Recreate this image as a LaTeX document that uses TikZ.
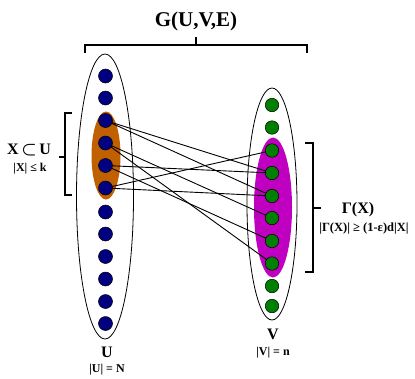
\documentclass[tikz,border=0pt]{standalone}
\usepackage{amsmath}
\usepackage{fontspec}
\setmainfont{Liberation Serif}
\usetikzlibrary{shapes.geometric}
\definecolor{dotblue}{RGB}{0,0,128}
\definecolor{dotgreen}{RGB}{0,128,0}
\definecolor{setorange}{RGB}{192,96,0}
\definecolor{setmag}{RGB}{192,0,192}
\tikzset{
  udot/.style={circle,draw=black,line width=0.5pt,fill=dotblue,minimum size=14pt,inner sep=0pt},
  vdot/.style={circle,draw=black,line width=0.5pt,fill=dotgreen,minimum size=13.5pt,inner sep=0pt},
  edge/.style={draw=black,line width=0.9pt},
  brk/.style={draw=black,line width=1.1pt},
  lbl/.style={inner sep=0pt,font=\bfseries},
  big/.style={lbl,font=\bfseries\fontsize{16}{16}\selectfont},
  small/.style={lbl,font=\bfseries\fontsize{12}{12}\selectfont},
}
\begin{document}
\begin{tikzpicture}[x=1pt,y=-1pt]
\useasboundingbox (0,0) rectangle (415,378);
% sets
\node[draw=black,line width=0.8pt,ellipse,minimum width=57pt,minimum height=285pt,inner sep=0pt] (Uset) at (105,196.5) {};
\node[draw=black,line width=0.8pt,ellipse,minimum width=50pt,minimum height=232pt,inner sep=0pt] (Vset) at (272,204) {};
\node[fill=setorange,ellipse,minimum width=29pt,minimum height=88pt,inner sep=0pt] (Xset) at (106,155.5) {};
\node[fill=setmag,ellipse,minimum width=38pt,minimum height=140pt,inner sep=0pt] (Gset) at (273,207.5) {};
% edges first (under dots)
\foreach \i/\y in {1/76,2/98,3/120.5,4/143,5/165.5,6/188,7/212,8/234,9/256.5,10/279,11/301.5,12/323.5}
  \coordinate (uc\i) at (105.5,\y);
\foreach \i/\y in {1/105,2/127.5,3/150.5,4/173,5/196,6/218,7/241,8/263.5,9/286,10/306}
  \coordinate (vc\i) at (272,\y);
\foreach \a/\b in {3/4,3/5,4/6,4/8,5/4,5/7,6/3,6/5}
  \draw[edge] (uc\a) -- (vc\b);
% dots
\foreach \i in {1,...,12}
  \node[udot] (u\i) at (uc\i) {};
\foreach \i in {1,...,10}
  \node[vdot] (v\i) at (vc\i) {};
% top bracket
\coordinate (tl) at (85,53);
\coordinate (tr) at (307,53);
\coordinate (tm) at (196,45);
\coordinate (tt) at (196,37);
\draw[brk] (tl) -- (85,45) -- (307,45) -- (tr);
\draw[brk] (tm) -- (tt);
\node[lbl,font=\bfseries\fontsize{21}{21}\selectfont] (G) at (196,21) {G(U,V,E)};
% left bracket
\coordinate (lt) at (72,113);
\coordinate (lb) at (72,195);
\coordinate (lm) at (65,157);
\coordinate (lo) at (59,157);
\draw[brk] (lt) -- (65,113) -- (65,195) -- (lb);
\draw[brk] (lm) -- (lo);
\node[big] (X) at (29,150) {X\,$\boldsymbol{\subset}$\,U};
\node[small] (Xs) at (30,169) {|X| ≤ k};
% right bracket
\coordinate (rt) at (305,143);
\coordinate (rb) at (305,272);
\coordinate (rm) at (313,208);
\coordinate (ro) at (321,208);
\draw[brk] (rt) -- (313,143) -- (313,272) -- (rb);
\draw[brk] (rm) -- (ro);
\node[big] (GX) at (358,210) {Γ(X)};
\node[lbl,font=\bfseries\fontsize{12.5}{12.5}\selectfont] (GXs) at (364,229) {|Γ(X)| ≥ (1-ε)d|X|};
% bottom labels
\node[big] (U) at (107,352) {U};
\node[small] (Us) at (107,370) {|U| = N};
\node[big] (V) at (273,334) {V};
\node[small] (Vs) at (273,353) {|V| = n};
\end{tikzpicture}
\end{document}
